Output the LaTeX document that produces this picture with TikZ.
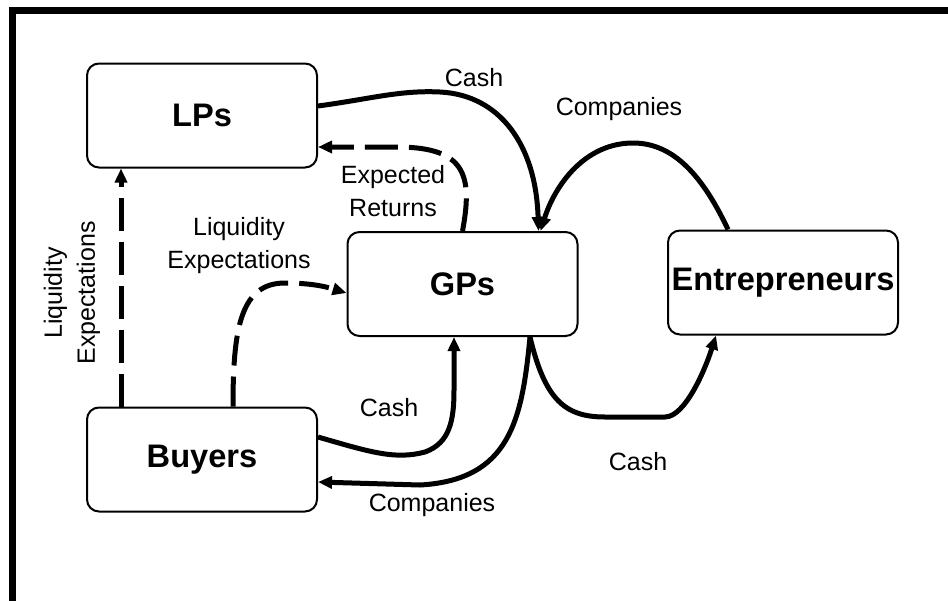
\documentclass[tikz,border=0pt]{standalone}
\usepackage{fontspec}
\setmainfont{Liberation Sans}
\usetikzlibrary{arrows.meta,calc}
\begin{document}
\begin{tikzpicture}[x=1pt,y=-1pt,
  box/.style={draw, line width=2pt, rounded corners=12pt, minimum width=230pt,
    minimum height=104pt, inner sep=0pt, font=\fontsize{32.6}{36}\selectfont\bfseries},
  lbl/.style={inner sep=0pt, align=center, font=\fontsize{25}{33}\selectfont},
  flow/.style={line width=5pt, -{Triangle[length=14pt,width=12pt]}},
  expect/.style={flow, dash pattern=on 33pt off 11pt},
]
\useasboundingbox (0,0) rectangle (948,600);
\fill[white] (0,0) rectangle (948,600);
% outer frame (only top and left edges fall inside the page)
\draw[line width=7pt, miter limit=10] (12.5,620) -- (12.5,10.8) -- (970,10.8);

% parties
\node[box] (lps) at (202,115.5) {LPs};
\node[box] (gps) at (462.5,284) {GPs};
\node[box] (ent) at (783,282.5) {Entrepreneurs};
\node[box] (buy) at (202,459.5) {Buyers};

% cash from LPs to GPs
\draw[flow] ($(lps.east)+(0,-9.5)$) .. controls (370,99) and (400,90) .. (440,92)
  .. controls (500,95) and (536,145) .. ($(gps.north)+(76,0)$);
% companies from entrepreneurs to GPs
\draw[flow] ($(ent.north)+(-55,0)$) .. controls (700,170) and (670,143) .. (633,143)
  .. controls (585,143) and (555,185) .. ($(gps.north)+(78,0)$);
% expected returns from GPs back to LPs
\draw[expect] (gps.north) .. controls (473,175) and (465,148) .. (400,147)
  -- ($(lps.east)+(0,31.5)$);
% liquidity expectations from buyers to LPs
\draw[expect] ($(buy.north)+(-81,0)$) -- ($(lps.south)+(-81,0)$);
% liquidity expectations from buyers to GPs
\draw[flow, dash pattern=on 30pt off 11pt] ($(buy.north)+(31,0)$)
  .. controls (233,330) and (240,283) .. (285,283)
  .. controls (315,283) and (330,288) .. ($(gps.west)+(0,9)$);
% cash from buyers to GPs
\draw[flow] ($(buy.east)+(0,-22.5)$) .. controls (370,452) and (395,460) .. (425,452)
  .. controls (450,443) and (454,420) .. (454,390) -- ($(gps.south)+(-8.5,0)$);
% companies from GPs to buyers
\draw[flow] ($(gps.south)+(67.5,0)$) .. controls (522,420) and (510,480) .. (420,485)
  -- ($(buy.east)+(0,22.5)$);
% cash from GPs to entrepreneurs
\draw[flow] ($(gps.south)+(67.5,0)$) .. controls (545,400) and (565,417) .. (605,417)
  -- (665,417) .. controls (685,417) and (705,370) .. ($(ent.south)+(-67,0)$);

% flow labels
\node[lbl] (cashtop) at (474,78) {Cash};
\node[lbl] (comptop) at (619,109) {Companies};
\node[lbl] (exret) at (393,191) {Expected\\Returns};
\node[lbl] (liqgp) at (239,246) {Liquidity\\Expectations};
\node[lbl, rotate=90] (liqlp) at (72,293) {Liquidity\\Expectations};
\node[lbl] (cashbuy) at (389,408) {Cash};
\node[lbl] (compbuy) at (432,505) {Companies};
\node[lbl] (cashent) at (638,462) {Cash};
\end{tikzpicture}
\end{document}
